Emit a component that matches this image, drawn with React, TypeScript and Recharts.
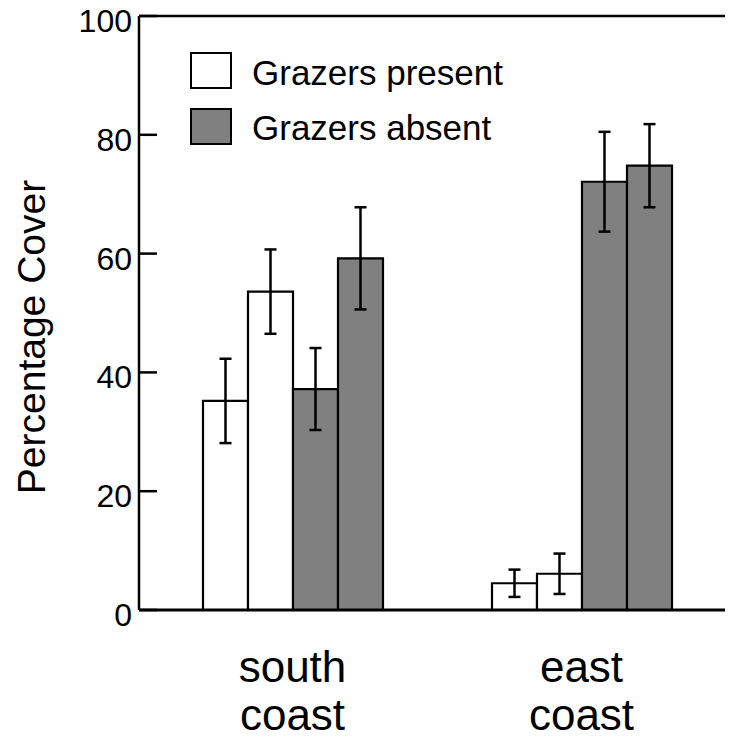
import React from 'react';
import { BarChart, Bar, XAxis, YAxis, ErrorBar, ReferenceLine, Legend } from 'recharts';

const categories = ['south coast', 'east coast'];
const categoryLines = [['south', 'coast'], ['east', 'coast']];
const present1 = [35.2, 4.5];
const present1Err = [7.1, 2.3];
const present2 = [53.6, 6.1];
const present2Err = [7.1, 3.4];
const absent1 = [37.2, 72.1];
const absent1Err = [6.9, 8.4];
const absent2 = [59.2, 74.8];
const absent2Err = [8.6, 7.0];
const yTicks = [0, 20, 40, 60, 80, 100];
const legendItems = [
  { label: 'Grazers present', fill: '#ffffff' },
  { label: 'Grazers absent', fill: '#808080' },
];

const data = categories.map((c, i) => ({
  name: c,
  p1: present1[i], p1e: present1Err[i],
  p2: present2[i], p2e: present2Err[i],
  a1: absent1[i], a1e: absent1Err[i],
  a2: absent2[i], a2e: absent2Err[i],
}));

const FONT = '"Liberation Sans", Arial, Helvetica, sans-serif';
const Y_TICK_MARGIN = 7;

const YTick = (props: any) => {
  const { x, y, payload } = props;
  const ax = x + Y_TICK_MARGIN;
  return (
    <g>
      <line x1={ax} x2={ax + 18} y1={y} y2={y} stroke="#000" strokeWidth={2.5} />
      <text x={x} y={y + 16} textAnchor="end" fontSize={32} fontFamily={FONT} fill="#000">
        {payload.value}
      </text>
    </g>
  );
};

const XTick = (props: any) => {
  const { x, y, index } = props;
  const lines = categoryLines[index] || [];
  return (
    <g>
      {lines.map((l, i) => (
        <text key={i} x={x} y={y + 72 + i * 48} textAnchor="middle" fontSize={44} fontFamily={FONT} fill="#000">
          {l}
        </text>
      ))}
    </g>
  );
};

const LegendContent = () => (
  <div style={{ position: 'relative', width: 0, height: 0, fontFamily: FONT }}>
    {legendItems.map((it, i) => (
      <React.Fragment key={it.label}>
        <div
          style={{
            position: 'absolute', left: 190, top: 52 + i * 56, width: 42, height: 37,
            boxSizing: 'border-box', border: '2.5px solid #000', background: it.fill,
          }}
        />
        <div
          style={{
            position: 'absolute', left: 252, top: 55 + i * 55, fontSize: 35, lineHeight: '35px',
            whiteSpace: 'nowrap', color: '#000',
          }}
        >
          {it.label}
        </div>
      </React.Fragment>
    ))}
  </div>
);

const YLabel = () => (
  <text
    x={45} y={337} transform="rotate(-90, 45, 337)" textAnchor="middle"
    fontSize={39} fontFamily={FONT} fill="#000"
  >
    Percentage Cover
  </text>
);

export default function App() {
  return (
    <div style={{ margin: -8 }}>
      <BarChart
        width={733}
        height={742}
        data={data}
        margin={{ top: 16, right: 0, bottom: 0, left: 0 }}
        barGap={0}
        barCategoryGap={55}
      >
        <XAxis
          dataKey="name"
          height={132}
          padding={{ left: 9, right: 6 }}
          axisLine={{ stroke: '#000', strokeWidth: 3 }}
          tickLine={false}
          tickSize={0}
          tickMargin={0}
          tick={<XTick />}
          interval={0}
        />
        <YAxis
          yAxisId="left"
          width={139}
          domain={[0, 100]}
          ticks={yTicks}
          axisLine={{ stroke: '#000', strokeWidth: 2.5 }}
          tickLine={false}
          tickSize={0}
          tickMargin={Y_TICK_MARGIN}
          tick={<YTick />}
          label={<YLabel />}
          interval={0}
        />
        <YAxis
          yAxisId="right"
          orientation="right"
          width={1}
          domain={[0, 100]}
          tick={false}
          tickLine={false}
          axisLine={{ stroke: '#999', strokeWidth: 1 }}
        />
        <ReferenceLine yAxisId="left" y={100} stroke="#000" strokeWidth={2.5} ifOverflow="visible" />
        <Legend
          layout="vertical"
          align="center"
          verticalAlign="middle"
          wrapperStyle={{ left: 0, top: 0, width: 0, height: 0 }}
          content={<LegendContent />}
        />
        <Bar yAxisId="left" dataKey="p1" fill="#ffffff" stroke="#000" strokeWidth={2.2} isAnimationActive={false}>
          <ErrorBar dataKey="p1e" direction="y" width={6} stroke="#000" strokeWidth={2.5} />
        </Bar>
        <Bar yAxisId="left" dataKey="p2" fill="#ffffff" stroke="#000" strokeWidth={2.2} isAnimationActive={false}>
          <ErrorBar dataKey="p2e" direction="y" width={6} stroke="#000" strokeWidth={2.5} />
        </Bar>
        <Bar yAxisId="left" dataKey="a1" fill="#808080" stroke="#000" strokeWidth={2.2} isAnimationActive={false}>
          <ErrorBar dataKey="a1e" direction="y" width={6} stroke="#000" strokeWidth={2.5} />
        </Bar>
        <Bar yAxisId="left" dataKey="a2" fill="#808080" stroke="#000" strokeWidth={2.2} isAnimationActive={false}>
          <ErrorBar dataKey="a2e" direction="y" width={6} stroke="#000" strokeWidth={2.5} />
        </Bar>
      </BarChart>
    </div>
  );
}
